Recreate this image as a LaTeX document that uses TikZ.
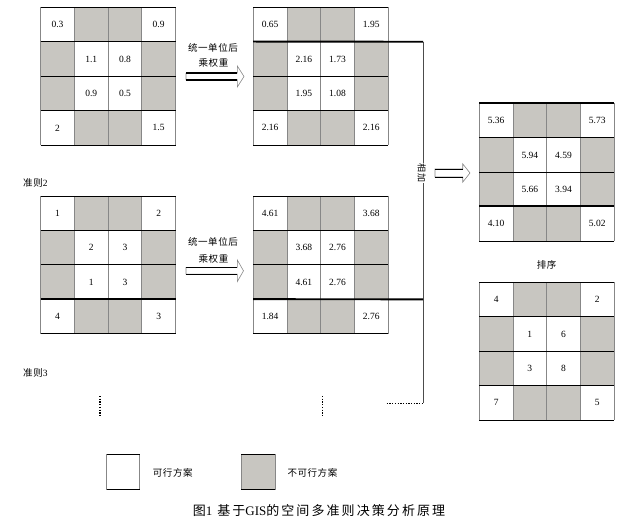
\documentclass[tikz,border=0pt]{standalone}
\usepackage{fontspec}
\setmainfont{Liberation Serif}
\newfontfamily\cjk[LetterSpace=6]{Noto Sans CJK SC}
\newfontfamily\capfont[LetterSpace=16]{Noto Sans CJK SC}
\definecolor{cellgray}{RGB}{200,198,193}
\definecolor{vlinec}{RGB}{135,135,135}
\def\cw{33.7}
\def\ch{34.45}
\newcommand\mkgrid[3]{%
  \foreach \r in {1,...,4}{\foreach \c in {1,...,4}{%
    \pgfmathtruncatemacro\edgeR{(\r==1)||(\r==4)}%
    \pgfmathtruncatemacro\edgeC{(\c==1)||(\c==4)}%
    \pgfmathtruncatemacro\wh{\edgeR==\edgeC}%
    \ifnum\wh=1 \def\fc{white}\else\def\fc{cellgray}\fi
    \node[cellbox, fill=\fc] (#1-\r-\c) at ({#2+(\c-0.5)*\cw},{#3+(\r-0.5)*\ch}) {};
  }}%
  \foreach \c in {0,...,4}{\draw[vgrid] ({#2+\c*\cw},#3) -- ++(0,{4*\ch});}%
  \foreach \r in {0,...,4}{\draw[hgrid] (#2,{#3+\r*\ch}) -- ++({4*\cw},0);}%
}
\newcommand\harrow[7]{%
  \draw[headline, fill=white] (#1,#4-#5) -- (#2,#4-#5) -- (#2,#4-#6) -- (#3,#4) -- (#2,#4+#6) -- (#2,#4+#5) -- (#1,#4+#5) -- cycle;
  \draw[line width=#7] (#1,#4-#5) -- (#2,#4-#5) (#1,#4+#5) -- (#2,#4+#5);
}
\begin{document}
\begin{tikzpicture}[x=1pt,y=-1pt,
  cellbox/.style={minimum width=\cw pt, minimum height=\ch pt, inner sep=0pt, draw=none},
  vgrid/.style={draw=vlinec, line width=0.8pt},
  hgrid/.style={draw=black, line width=0.8pt},
  thickh/.style={draw=black, line width=1.9pt},
  headline/.style={draw=vlinec, line width=0.6pt},
  num/.style={font=\fontsize{9.5}{10}\selectfont},
  zh/.style={font=\cjk\fontsize{9.5}{11}\selectfont},
  dots/.style={line width=1.5pt, dash pattern=on 1.3pt off 1.4pt}]
\useasboundingbox (0,0) rectangle (629,529);

% grids
\mkgrid{ga}{40.7}{7.3}
\mkgrid{gb}{253.3}{7.3}
\mkgrid{gc}{40.7}{196}
\mkgrid{gd}{253.3}{196}
\mkgrid{ge}{479.3}{103.3}
\mkgrid{gf}{479.3}{282.3}

% values grid a
\node[num] at (ga-1-1) {0.3}; \node[num] at (ga-1-4) {0.9};
\node[num] at (ga-2-2) {1.1}; \node[num] at (ga-2-3) {0.8};
\node[num] at (ga-3-2) {0.9}; \node[num] at (ga-3-3) {0.5};
\node[num] at (ga-4-1) {2};   \node[num] at (ga-4-4) {1.5};
% grid b
\node[num] at (gb-1-1) {0.65}; \node[num] at (gb-1-4) {1.95};
\node[num] at (gb-2-2) {2.16}; \node[num] at (gb-2-3) {1.73};
\node[num] at (gb-3-2) {1.95}; \node[num] at (gb-3-3) {1.08};
\node[num] at (gb-4-1) {2.16}; \node[num] at (gb-4-4) {2.16};
% grid c
\node[num] at (gc-1-1) {1}; \node[num] at (gc-1-4) {2};
\node[num] at (gc-2-2) {2}; \node[num] at (gc-2-3) {3};
\node[num] at (gc-3-2) {1}; \node[num] at (gc-3-3) {3};
\node[num] at (gc-4-1) {4}; \node[num] at (gc-4-4) {3};
% grid d
\node[num] at (gd-1-1) {4.61}; \node[num] at (gd-1-4) {3.68};
\node[num] at (gd-2-2) {3.68}; \node[num] at (gd-2-3) {2.76};
\node[num] at (gd-3-2) {4.61}; \node[num] at (gd-3-3) {2.76};
\node[num] at (gd-4-1) {1.84}; \node[num] at (gd-4-4) {2.76};
% grid e
\node[num] at (ge-1-1) {5.36}; \node[num] at (ge-1-4) {5.73};
\node[num] at (ge-2-2) {5.94}; \node[num] at (ge-2-3) {4.59};
\node[num] at (ge-3-2) {5.66}; \node[num] at (ge-3-3) {3.94};
\node[num] at (ge-4-1) {4.10}; \node[num] at (ge-4-4) {5.02};
% grid f
\node[num] at (gf-1-1) {4}; \node[num] at (gf-1-4) {2};
\node[num] at (gf-2-2) {1}; \node[num] at (gf-2-3) {6};
\node[num] at (gf-3-2) {3}; \node[num] at (gf-3-3) {8};
\node[num] at (gf-4-1) {7}; \node[num] at (gf-4-4) {5};

% thick lines
\draw[thickh] (ga-2-1.north west) -- (ga-2-4.north east);
\draw[thickh] (gc-4-1.north west) -- (gc-4-4.north east);
\draw[thickh] (ge-1-1.north west) -- (ge-1-4.north east);
\draw[thickh] (ge-4-1.north west) -- (ge-4-4.north east);
\draw[thickh] (gf-4-1.north west) -- (gf-4-4.north east);

% bus
\coordinate (bustop) at (423,41.75);
\coordinate (busmid) at (423,299.35);
\coordinate (busbot) at (423,403.3);
\coordinate (dotend) at (386.7,403.3);
\draw[draw=black!70, line width=1pt] (bustop) -- (busbot);
\draw[thickh] (gb-2-1.north west) -- (bustop);
\draw[thickh] (gd-4-1.north west) -- (busmid);
\draw[dots] (dotend) -- (busbot);
\node[font=\cjk\fontsize{9}{10}\selectfont, fill=white, inner sep=1pt, rotate=-90] (sum) at (421.7,173) {相加};

% arrows
\harrow{186}{237.3}{244}{76.5}{3.3}{10.5}{1.9}
\harrow{186}{237.3}{243.5}{270.8}{3.4}{10.8}{0.8}
\harrow{435}{462.7}{470}{173}{4}{9.2}{0.8}

\node[zh] (t1a) at (213,47.7) {统一单位后};
\node[zh] (t1b) at (213.5,63.3) {乘权重};
\node[zh] (t2a) at (213,241.7) {统一单位后};
\node[zh] (t2b) at (213.5,259) {乘权重};

% labels
\node[zh, anchor=west, inner sep=0pt] (c2) at (23,182.5) {准则\fontspec{Liberation Serif}2};
\node[zh, anchor=west, inner sep=0pt] (c3) at (23,373) {准则\fontspec{Liberation Serif}3};
\node[zh] (sort) at (546.7,265) {排序};

% ellipses
\coordinate (d1a) at (100,396); \coordinate (d1b) at (100,416);
\coordinate (d2a) at (322.7,396); \coordinate (d2b) at (322.7,416);
\draw[dots] (d1a) -- (d1b);
\draw[dots] (d2a) -- (d2b);

% legend
\node[cellbox, fill=white, minimum width=32.6pt, minimum height=35pt] (lw) at (123,471.8) {};
\draw[vgrid] (lw.north west) -- (lw.south west) (lw.north east) -- (lw.south east);
\draw[hgrid] (lw.north west) -- (lw.north east) (lw.south west) -- (lw.south east);
\node[zh, anchor=west, inner sep=0pt] (lwt) at (152.7,473.3) {可行方案};
\node[cellbox, fill=cellgray, minimum width=33.4pt, minimum height=35pt] (lg) at (258,471.8) {};
\draw[vgrid] (lg.north west) -- (lg.south west) (lg.north east) -- (lg.south east);
\draw[hgrid] (lg.north west) -- (lg.north east) (lg.south west) -- (lg.south east);
\node[zh, anchor=west, inner sep=0pt] (lgt) at (287.3,472.7) {不可行方案};

% caption
\node[font=\capfont\fontsize{13}{15}\selectfont] (cap) at (319,510.7) {图{\fontspec{Liberation Serif}1}\hspace{5pt}基于{\fontspec{Liberation Serif}GIS}的空间多准则决策分析原理};
\end{tikzpicture}
\end{document}
